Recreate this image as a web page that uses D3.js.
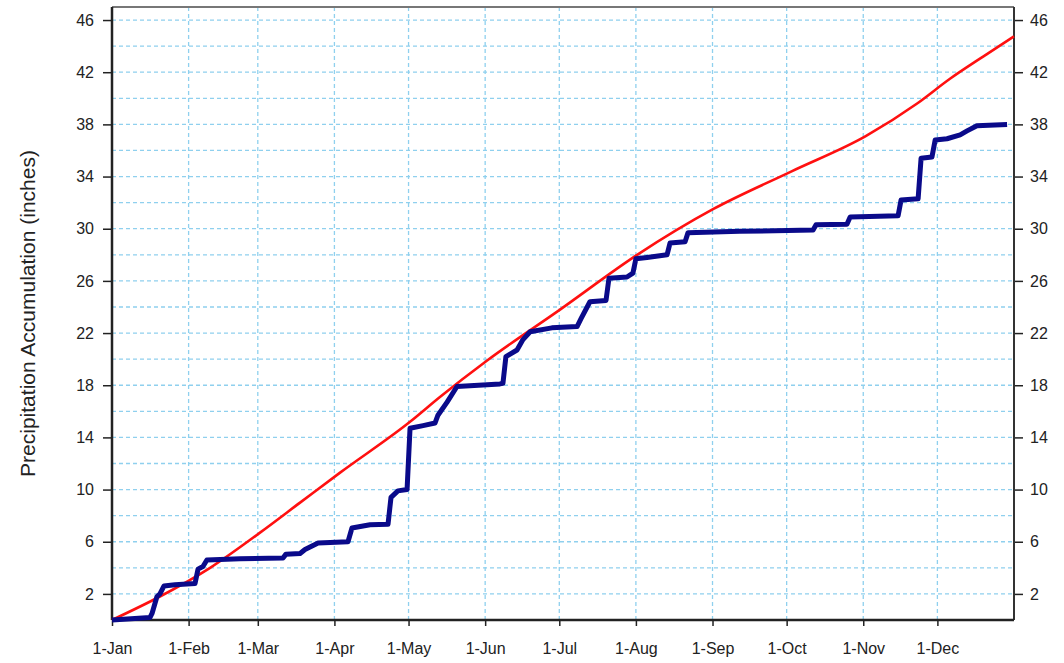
<!DOCTYPE html>
<html>
<head>
<meta charset="utf-8">
<script src="https://d3js.org/d3.v7.min.js"></script>
<style>
  body { margin: 0; background: #fff; }
  text { font-family: "Liberation Sans", Arial, sans-serif; fill: #222; }
</style>
</head>
<body>
<div id="chart"></div>
<script>
// month labels and their day-of-year positions
var monthLabels = ["1-Jan", "1-Feb", "1-Mar", "1-Apr", "1-May", "1-Jun",
                   "1-Jul", "1-Aug", "1-Sep", "1-Oct", "1-Nov", "1-Dec"];
var monthDays = [0, 31, 59, 90, 120, 151, 181, 212, 243, 273, 304, 334];

var yLabelTicks = [2, 6, 10, 14, 18, 22, 26, 30, 34, 38, 42, 46];
var yGridTicks = d3.range(2, 47, 2);

// normal accumulation (red), [day of year, inches]
var normalDays = [0, 19.4, 39.7, 59.9, 76.1, 92.3, 120.6, 132.7, 151.8, 181.3, 212.5, 243.2, 275, 305, 325.8, 339.1, 352.5, 365];
var normalVals = [0, 1.8, 4.0, 6.7, 9.0, 11.3, 15.2, 17.1, 19.9, 23.8, 28.0, 31.5, 34.4, 37.1, 39.6, 41.5, 43.2, 44.75];

// observed accumulation (blue), [day of year, inches]
var obsDays = [0, 15.4, 16.2, 18.2, 19.4, 21, 25.5, 33.6, 34.8, 36.8, 38.4, 51.8, 69.2, 70.4, 76.1, 78.1, 83.4, 95.5,
               97.1, 104.4, 111.7, 112.9, 115.7, 119.4, 120.6, 125.9, 130.7, 131.9, 135.6, 139.6, 157, 158.2,
               159.4, 163.9, 166.3, 169.2, 178, 188.2, 189.8, 193.4, 199.9, 201.1, 208.4, 210.8, 212, 216.5,
               224.6, 225.8, 231.9, 233.1, 254, 283.7, 284.9, 297.4, 298.7, 318.1, 319.3, 326.2, 327.4, 331.8,
               333.1, 337.9, 343.2, 346, 350, 362.2];
var obsVals = [0, 0.2, 0.5, 1.8, 2.0, 2.6, 2.7, 2.8, 3.9, 4.1, 4.6, 4.7, 4.75, 5.05, 5.1, 5.4, 5.9, 6.0,
               7.05, 7.3, 7.35, 9.4, 9.9, 10.0, 14.7, 14.9, 15.1, 15.7, 16.7, 17.9, 18.1, 18.15,
               20.2, 20.7, 21.5, 22.1, 22.4, 22.5, 23.1, 24.4, 24.5, 26.2, 26.3, 26.6, 27.7, 27.8,
               28.0, 28.9, 29.0, 29.7, 29.8, 29.9, 30.3, 30.35, 30.9, 31.0, 32.2, 32.3, 35.4, 35.5,
               36.8, 36.9, 37.2, 37.5, 37.9, 38.0];

var margin = {top: 7, right: 50, bottom: 43, left: 112},
  width = 1064 - margin.left - margin.right,
  height = 663 - margin.top - margin.bottom;

var xScale = d3.scaleLinear().domain([0, 365]).range([0, width]);
var yScale = d3.scaleLinear().domain([0, 47]).range([height, 0]);

var svg = d3.select("#chart").append("svg")
  .attr("width", 1064)
  .attr("height", 663);

var vis = svg.append("g")
  .attr("transform", "translate(" + margin.left + "," + margin.top + ")");

// dashed grid
vis.selectAll("line.hgrid")
  .data(yGridTicks)
  .enter().append("line")
  .attr("class", "hgrid")
  .attr("x1", 0).attr("x2", width)
  .attr("y1", d => yScale(d)).attr("y2", d => yScale(d))
  .attr("stroke", "#8fd0ee")
  .attr("stroke-width", 1.3)
  .attr("stroke-dasharray", "4,3");

vis.selectAll("line.vgrid")
  .data(monthDays.slice(1))
  .enter().append("line")
  .attr("class", "vgrid")
  .attr("x1", d => xScale(d)).attr("x2", d => xScale(d))
  .attr("y1", 0).attr("y2", height)
  .attr("stroke", "#8fd0ee")
  .attr("stroke-width", 1.3)
  .attr("stroke-dasharray", "4,3");

// axes
var yLeft = d3.axisLeft(yScale).tickValues(yLabelTicks).tickSize(9).tickPadding(9);
var yRight = d3.axisRight(yScale).tickValues(yLabelTicks).tickSize(9).tickPadding(7);
var xBottom = d3.axisBottom(xScale).tickValues(monthDays).tickSize(6).tickPadding(17)
  .tickFormat((d, i) => monthLabels[i]);

function styleAxis(g) {
  g.select(".domain").remove();
  g.selectAll(".tick line").attr("stroke", "#222").attr("stroke-width", 1.5);
  g.selectAll(".tick text").style("font-size", "16px").attr("fill", "#222");
}

vis.append("g").call(yLeft).call(styleAxis);
vis.append("g").attr("transform", "translate(" + width + ",0)").call(yRight).call(styleAxis);
vis.append("g").attr("transform", "translate(0," + height + ")").call(xBottom).call(styleAxis);

// frame
vis.append("line").attr("x1", 0).attr("x2", width).attr("y1", 0).attr("y2", 0)
  .attr("stroke", "#777").attr("stroke-width", 2);
vis.append("line").attr("x1", width).attr("x2", width).attr("y1", 0).attr("y2", height)
  .attr("stroke", "#333").attr("stroke-width", 2);
vis.append("line").attr("x1", 0).attr("x2", 0).attr("y1", 0).attr("y2", height)
  .attr("stroke", "#222").attr("stroke-width", 2.5);
vis.append("line").attr("x1", 0).attr("x2", width).attr("y1", height).attr("y2", height)
  .attr("stroke", "#222").attr("stroke-width", 2.5);

// series
var normal = normalDays.map((d, i) => ({x: d, y: normalVals[i]}));
var obs = obsDays.map((d, i) => ({x: d, y: obsVals[i]}));

var redLine = d3.line()
  .x(d => xScale(d.x))
  .y(d => yScale(d.y))
  .curve(d3.curveMonotoneX);

var blueLine = d3.line()
  .x(d => xScale(d.x))
  .y(d => yScale(d.y));

vis.append("path")
  .datum(normal)
  .attr("d", redLine)
  .attr("fill", "none")
  .attr("stroke", "#ff1010")
  .attr("stroke-width", 2.6);

vis.append("path")
  .datum(obs)
  .attr("d", blueLine)
  .attr("fill", "none")
  .attr("stroke", "#0a0a8a")
  .attr("stroke-width", 5)
  .attr("stroke-linejoin", "round");

// y axis title
svg.append("text")
  .attr("transform", "translate(28," + (margin.top + height / 2) + ") rotate(-90)")
  .attr("text-anchor", "middle")
  .attr("dy", "0.35em")
  .style("font-size", "21px")
  .text("Precipitation Accumulation (inches)");
</script>
</body>
</html>
